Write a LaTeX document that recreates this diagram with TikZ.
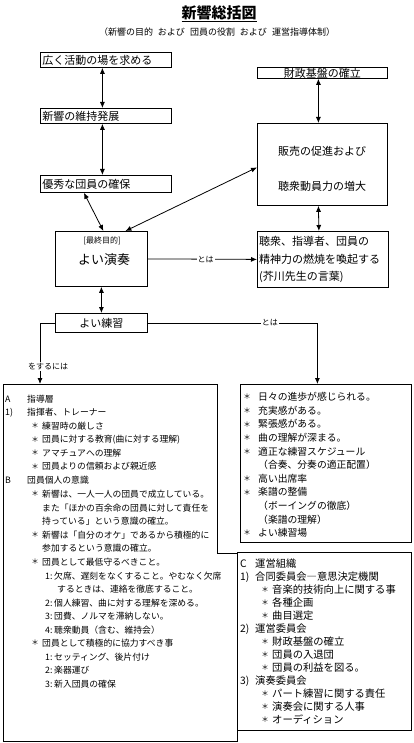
\documentclass[tikz,border=0pt]{standalone}
\usepackage{fontspec}
\setmainfont{Noto Sans CJK JP}
\usetikzlibrary{arrows.meta}
\begin{document}
\begin{tikzpicture}[x=1pt,y=-1pt,
  box/.style={draw, line width=0.8pt, rectangle, inner sep=0pt, anchor=north west},
  dbl/.style={{Latex[length=6pt,width=5pt]}-{Latex[length=6pt,width=5pt]}, line width=0.8pt},
  arr/.style={-{Latex[length=6pt,width=5pt]}, line width=0.8pt},
  ln/.style={line width=0.8pt},
  lbl/.style={fill=white, inner sep=1pt, font=\fontsize{8}{8}\selectfont},
  tx/.style={anchor=west, inner sep=0pt},
  lt/.style={tx, font=\fontsize{8.8}{8.8}\selectfont},
  rt/.style={tx, font=\fontsize{9.8}{9.8}\selectfont},
  ct/.style={tx, font=\fontsize{10.3}{10.3}\selectfont},
  bu/.style={anchor=center, inner sep=0pt, font=\fontsize{7.5}{7.5}\selectfont},
  big/.style={inner sep=0pt, font=\fontsize{11}{11}\selectfont},
]
\useasboundingbox (0,0) rectangle (413,743);

% title
\node[inner sep=0pt, font=\bfseries\fontsize{15}{15}\selectfont] (title) at (219,14) {\underline{新響総括図}};
\node[inner sep=0pt, font=\fontsize{9}{9}\selectfont] (sub) at (217,32) {（新響の目的\hspace{5pt}および\hspace{5pt}団員の役割\hspace{5pt}および\hspace{5pt}運営指導体制）};

% left column boxes
\node[box, minimum width=131pt, minimum height=15pt, inner xsep=2pt, text width=127pt, align=left, font=\fontsize{11}{11}\selectfont] (b1) at (40,52) {広く活動の場を求める};
\node[box, minimum width=131pt, minimum height=15pt, inner xsep=2pt, text width=127pt, align=left, font=\fontsize{11}{11}\selectfont] (b2) at (40,108) {新響の維持発展};
\node[box, minimum width=131pt, minimum height=17pt, inner xsep=2pt, text width=127pt, align=left, font=\fontsize{11}{11}\selectfont] (b3) at (40,175) {優秀な団員の確保};

% right column boxes
\node[box, minimum width=130pt, minimum height=11pt, text width=130pt, align=center, font=\fontsize{11}{11}\selectfont] (fz) at (257,67) {財政基盤の確立};
\node[box, minimum width=130pt, minimum height=82pt] (hb) at (257,123) {};
\node[big] (hb1) at (322,151) {販売の促進および};
\node[big] (hb2) at (322,186) {聴衆動員力の増大};

% final goal
\node[box, minimum width=92pt, minimum height=55pt] (en) at (55,231) {};
\node[inner sep=0pt, font=\fontsize{8}{8}\selectfont] (en1) at (102,241) {[最終目的]};
\node[inner sep=0pt, font=\fontsize{13}{13}\selectfont] (en2) at (104,260) {よい演奏};

\node[box, minimum width=131pt, minimum height=56pt] (ch) at (257,231) {};
\node[big, anchor=west] (ch1) at (259,241) {聴衆、指導者、団員の};
\node[big, anchor=west] (ch2) at (259,259) {精神力の燃焼を喚起する};
\node[big, anchor=west] (ch3) at (259,277) {(芥川先生の言葉)};

\node[box, minimum width=92pt, minimum height=19pt, text width=92pt, align=center, font=\fontsize{11}{11}\selectfont] (rn) at (55,313) {よい練習};

% lower boxes
\node[box, minimum width=171pt, minimum height=158pt] (rb) at (240,384) {};
\node[box, minimum width=174pt, minimum height=178pt] (cb) at (237,552) {};
\draw[ln] (3,384) -- (217,384) -- (217,553) -- (237,553) -- (237,741) -- (3,741) -- cycle;
\coordinate (lbtop) at (40,384);

% connectors
\draw[dbl] ([xshift=-3.5pt]b1.south) -- ([xshift=-3.5pt]b2.north);
\draw[dbl] ([xshift=-3.5pt]b2.south) -- ([xshift=-3.5pt]b3.north);
\draw[dbl] ([xshift=-22pt]b3.south) -- ([xshift=2pt]en.north);
\draw[dbl] ([xshift=24pt]en.north) -- ([yshift=-3pt]hb.west);
\draw[dbl] ([xshift=-4pt]fz.south) -- ([xshift=-4pt]hb.north);
\draw[dbl] ([xshift=-4pt]hb.south) -- ([xshift=-4pt]ch.north);
\draw[arr] (en.east) -- node[lbl, pos=0.53] (t1) {とは} (ch.west);
\draw[dbl] (en.south) -- (rn.north);
\draw[arr] (rn.east) -| node[lbl, pos=0.36] (t2) {とは} ([xshift=-8.5pt]rb.north);
\draw[arr] (rn.west) -| node[lbl, pos=0.855, xshift=8pt] (t3) {をするには} (lbtop);

% left list
\node[lt] (a0) at (5,399) {A};
\node[lt] (a1) at (27,399) {指導層};
\node[lt] (a2) at (5,412.5) {1)};
\node[lt] (a3) at (27,412.5) {指揮者、トレーナー};
\node[bu] (s1) at (35,426) {＊};
\node[lt] (a4) at (42,426) {練習時の厳しさ};
\node[bu] (s2) at (35,439.5) {＊};
\node[lt] (a5) at (42,439.5) {団員に対する教育(曲に対する理解)};
\node[bu] (s3) at (35,453) {＊};
\node[lt] (a6) at (42,453) {アマチュアへの理解};
\node[bu] (s4) at (35,466.5) {＊};
\node[lt] (a7) at (42,466.5) {団員よりの信頼および親近感};
\node[lt] (a8) at (5,480) {B};
\node[lt] (a9) at (27,480) {団員個人の意識};
\node[bu] (s5) at (35,494) {＊};
\node[lt] (a10) at (42,494) {新響は、一人一人の団員で成立している。};
\node[lt] (a11) at (42,508) {また「ほかの百余命の団員に対して責任を};
\node[lt] (a12) at (42,521) {持っている」という意識の確立。};
\node[bu] (s6) at (35,535) {＊};
\node[lt] (a13) at (42,535) {新響は「自分のオケ」であるから積極的に};
\node[lt] (a14) at (42,548) {参加するという意識の確立。};
\node[bu] (s7) at (35,562) {＊};
\node[lt] (a15) at (42,562) {団員として最低守るべきこと。};
\node[lt] (a16) at (45,576) {1:};
\node[lt] (a17) at (54,576) {欠席、遅刻をなくすること。やむなく欠席};
\node[lt] (a18) at (57,589) {するときは、連絡を徹底すること。};
\node[lt] (a19) at (45,603) {2:};
\node[lt] (a20) at (54,603) {個人練習、曲に対する理解を深める。};
\node[lt] (a21) at (45,616) {3:};
\node[lt] (a22) at (54,616) {団費、ノルマを滞納しない。};
\node[lt] (a23) at (45,630) {4:};
\node[lt] (a24) at (54,630) {聴衆動員（含む、維持会）};
\node[bu] (s8) at (35,643) {＊};
\node[lt] (a25) at (42,643) {団員として積極的に協力すべき事};
\node[lt] (a26) at (45,657) {1:};
\node[lt] (a27) at (54,657) {セッティング、後片付け};
\node[lt] (a28) at (45,670) {2:};
\node[lt] (a29) at (54,670) {楽器運び};
\node[lt] (a30) at (45,684) {3:};
\node[lt] (a31) at (54,684) {新入団員の確保};

% right upper list
\node[bu] (r0) at (247,397) {＊};
\node[rt] (r1) at (258,397) {日々の進歩が感じられる。};
\node[bu] (r2) at (247,410.6) {＊};
\node[rt] (r3) at (258,410.6) {充実感がある。};
\node[bu] (r4) at (247,424.2) {＊};
\node[rt] (r5) at (258,424.2) {緊張感がある。};
\node[bu] (r6) at (247,437.8) {＊};
\node[rt] (r7) at (258,437.8) {曲の理解が深まる。};
\node[bu] (r8) at (247,451.4) {＊};
\node[rt] (r9) at (258,451.4) {適正な練習スケジュール};
\node[rt] (r10) at (258,465) {（合奏、分奏の適正配置）};
\node[bu] (r11) at (247,478.6) {＊};
\node[rt] (r12) at (258,478.6) {高い出席率};
\node[bu] (r13) at (247,492.2) {＊};
\node[rt] (r14) at (258,492.2) {楽譜の整備};
\node[rt] (r15) at (258,505.8) {（ボーイングの徹底）};
\node[rt] (r16) at (258,519.4) {（楽譜の理解）};
\node[bu] (r17) at (247,533) {＊};
\node[rt] (r18) at (258,533) {よい練習場};

% C list
\node[ct] (c0) at (240,564) {C};
\node[ct] (c1) at (255,564) {運営組織};
\node[ct] (c2) at (240,577) {1)};
\node[ct] (c3) at (255,577) {合同委員会―意思決定機関};
\node[bu] (c4) at (265,590) {＊};
\node[ct] (c5) at (272,590) {音楽的技術向上に関する事};
\node[bu] (c6) at (265,603) {＊};
\node[ct] (c7) at (272,603) {各種企画};
\node[bu] (c8) at (265,616) {＊};
\node[ct] (c9) at (272,616) {曲目選定};
\node[ct] (c10) at (240,629) {2)};
\node[ct] (c11) at (255,629) {運営委員会};
\node[bu] (c12) at (265,642) {＊};
\node[ct] (c13) at (272,642) {財政基盤の確立};
\node[bu] (c14) at (265,655) {＊};
\node[ct] (c15) at (272,655) {団員の入退団};
\node[bu] (c16) at (265,668) {＊};
\node[ct] (c17) at (272,668) {団員の利益を図る。};
\node[ct] (c18) at (240,681) {3)};
\node[ct] (c19) at (255,681) {演奏委員会};
\node[bu] (c20) at (265,694) {＊};
\node[ct] (c21) at (272,694) {パート練習に関する責任};
\node[bu] (c22) at (265,707) {＊};
\node[ct] (c23) at (272,707) {演奏会に関する人事};
\node[bu] (c24) at (265,720) {＊};
\node[ct] (c25) at (272,720) {オーディション};
\end{tikzpicture}
\end{document}
